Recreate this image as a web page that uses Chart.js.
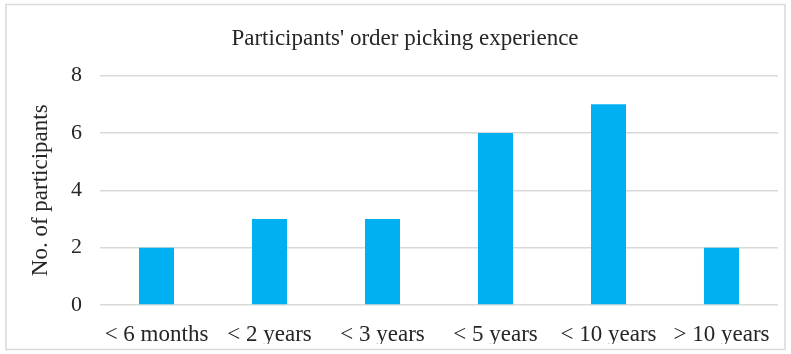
<!DOCTYPE html>
<html>
<head>
<meta charset="utf-8">
<script src="https://cdn.jsdelivr.net/npm/chart.js@4"></script>
<style>
  html, body { margin: 0; padding: 0; background: #fff; }
  #wrap { width: 791px; height: 354px; position: relative; }
</style>
</head>
<body>
<div id="wrap"><canvas id="barChart"></canvas></div>
<script>
const categories = ['< 6 months', '< 2 years', '< 3 years', '< 5 years', '< 10 years', '> 10 years'];
const participants = [2, 3, 3, 6, 7, 2];
const yTicks = [0, 2, 4, 6, 8];

const textColor = '#262626';
const serif = "'Liberation Serif', 'Times New Roman', serif";

// light grey frame round the whole chart, like the Excel chart area
const frame = {
    id: 'frame',
    beforeDraw(chart) {
        const c = chart.ctx;
        c.save();
        c.fillStyle = '#fff';
        c.fillRect(0, 0, chart.width, chart.height);
        c.strokeStyle = '#d9d9d9';
        c.lineWidth = 1.5;
        c.strokeRect(6, 4.5, 779, 345);
        c.restore();
    }
};

let ready = (callback) => {
    if (document.readyState != "loading") callback();
    else document.addEventListener("DOMContentLoaded", callback);
}

ready(() => {
    var ctx = document.getElementById("barChart").getContext("2d");
    new Chart(ctx, {
        type: "bar",
        data: {
            labels: categories,
            datasets: [{
                label: "No. of participants",
                data: participants,
                backgroundColor: "#00b0f0",
                borderWidth: 0,
                barPercentage: 0.31,
                categoryPercentage: 1
            }]
        },
        options: {
            responsive: true,
            maintainAspectRatio: false,
            animation: false,
            layout: {
                // left padding pushes the chart title a bit right, as in the original
                padding: { left: 32, right: 13, top: 0, bottom: 10 }
            },
            plugins: {
                legend: { display: false },
                tooltip: { enabled: false },
                title: {
                    display: true,
                    text: "Participants' order picking experience",
                    color: textColor,
                    font: { family: serif, size: 23, weight: 'normal' },
                    padding: { top: 25, bottom: 23 }
                }
            },
            scales: {
                x: {
                    grid: { display: false },
                    border: { display: false },
                    ticks: {
                        color: textColor,
                        font: { family: serif, size: 23 },
                        padding: 8,
                        maxRotation: 0,
                        autoSkip: false
                    },
                    afterFit: (s) => { s.height = 39; }
                },
                y: {
                    min: 0,
                    max: 8,
                    afterBuildTicks: (s) => { s.ticks = yTicks.map(v => ({ value: v })); },
                    grid: { color: '#d9d9d9', lineWidth: 1.5, drawTicks: false },
                    border: { display: false },
                    ticks: {
                        color: textColor,
                        font: { family: serif, size: 22 },
                        padding: 18
                    },
                    title: {
                        display: true,
                        text: "No. of participants",
                        color: textColor,
                        font: { family: serif, size: 23 },
                        padding: { top: -5, bottom: 0 }
                    },
                    afterFit: (s) => { s.width = 68; }
                }
            }
        },
        plugins: [frame]
    });
});
</script>
</body>
</html>
